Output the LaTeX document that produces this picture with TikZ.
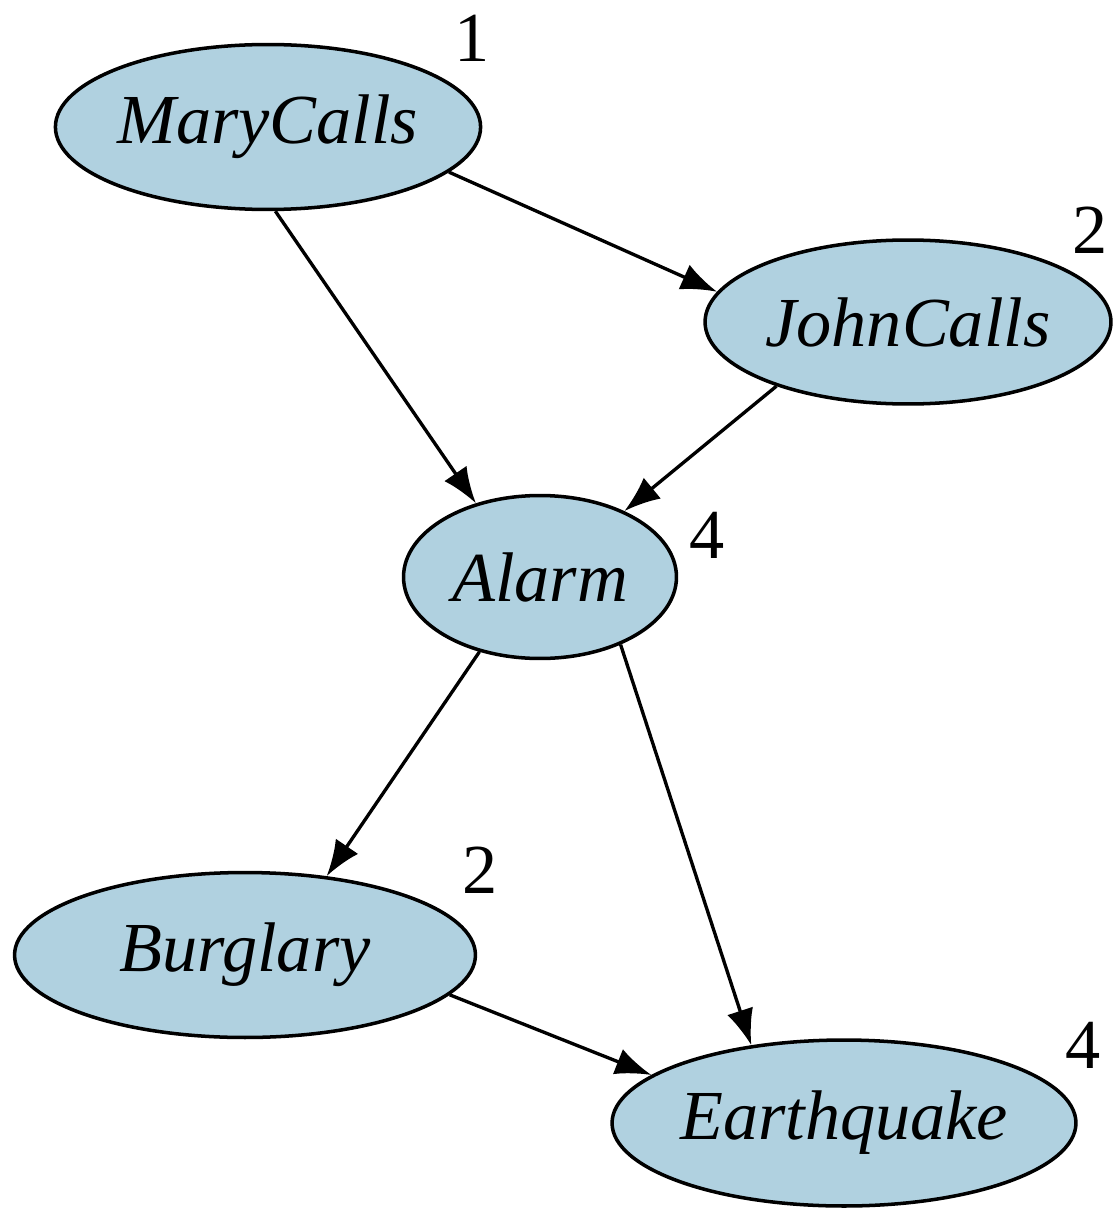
\documentclass[tikz,border=0pt]{standalone}
\usepackage{fontspec}
\setmainfont{LiberationSerif}[Extension=.ttf, UprightFont=*-Regular, ItalicFont=*-Italic, BoldFont=*-Bold]
\usetikzlibrary{arrows.meta, shapes.geometric}
\definecolor{nodeBlue}{RGB}{176,209,224}
\tikzset{
    netNode/.style={ellipse, draw, line width=2pt, fill=nodeBlue, inner sep=0pt, font=\fontsize{40}{48}\selectfont\itshape},
    netEdge/.style={-{Latex[length=0.72cm, width=0.54cm]}, line width=1.9pt},
    netCount/.style={inner sep=0pt, font=\fontsize{40}{48}\selectfont},
}
\newcommand{\drawArc}[4]{
    \draw[netEdge] (#1.#2) -- (#3.#4);
}

\begin{document}
\begin{tikzpicture}[x=0.02cm, y=-0.02cm]
        \useasboundingbox (0,0) rectangle (1115,1213);

        \node[netNode, minimum width=8.40cm, minimum height=3.30cm] (mary) at (268,127) {MaryCalls};
        \node[netNode, minimum width=8.12cm, minimum height=3.28cm] (john) at (908,322) {JohnCalls};
        \node[netNode, minimum width=5.46cm, minimum height=3.26cm] (alarm) at (540,577) {Alarm};
        \node[netNode, minimum width=9.22cm, minimum height=3.30cm] (burglary) at (245,955) {Burglary};
        \node[netNode, minimum width=9.28cm, minimum height=3.32cm] (quake) at (844,1123) {Earthquake};

        \node[netCount] (maryN) at (472,38) {1};
        \node[netCount] (johnN) at (1090,230) {2};
        \node[netCount] (alarmN) at (707,535) {4};
        \node[netCount] (burglaryN) at (480,870) {2};
        \node[netCount] (quakeN) at (1083,1045) {4};

        \drawArc{mary}{-14}{john}{171}
        \drawArc{mary}{-85}{alarm}{131}
        \drawArc{john}{-154}{alarm}{38}
        \drawArc{alarm}{-129}{burglary}{44}
        \drawArc{alarm}{-40}{quake}{140}
        \drawArc{burglary}{-11}{quake}{166}

    \end{tikzpicture}
\end{document}
